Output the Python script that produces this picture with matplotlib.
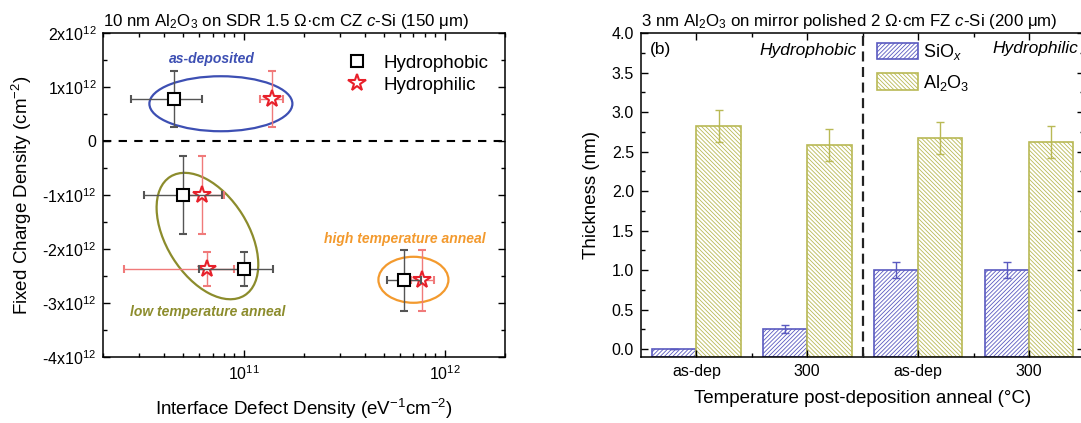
"""Fixed charge vs. interface defect density (a) and layer thickness bars (b)."""

import matplotlib.pyplot as plt
import matplotlib.transforms as mtransforms
from matplotlib.lines import Line2D
from matplotlib.patches import Ellipse
from matplotlib.ticker import FixedLocator, NullFormatter

plt.rcParams["font.family"] = ["Liberation Sans", "DejaVu Sans"]
plt.rcParams["mathtext.fontset"] = "custom"
plt.rcParams["mathtext.rm"] = "Liberation Sans"
plt.rcParams["mathtext.it"] = "Liberation Sans:italic"
plt.rcParams["hatch.linewidth"] = 0.6

# ---- panel (a): Dit vs Qf ----
# order: as-deposited, low-T (upper), low-T (lower), high-T anneal
dit_phob = [4.5e10, 5.0e10, 1.0e11, 6.3e11]
dit_phob_lo = [2.75e10, 3.2e10, 6.0e10, 5.2e11]
dit_phob_hi = [6.2e10, 7.8e10, 1.4e11, 7.6e11]
qf_phob = [0.78e12, -1.0e12, -2.37e12, -2.58e12]
qf_phob_err = [0.52e12, 0.72e12, 0.32e12, 0.56e12]

dit_phil = [1.38e11, 6.2e10, 6.6e10, 7.7e11]
dit_phil_lo = [1.2e11, 4.8e10, 2.55e10, 6.8e11]
dit_phil_hi = [1.57e11, 8.0e10, 9.0e10, 8.85e11]
qf_phil = [0.78e12, -1.0e12, -2.37e12, -2.58e12]
qf_phil_err = [0.52e12, 0.72e12, 0.32e12, 0.56e12]

qf_ticks = [2e12, 1e12, 0, -1e12, -2e12, -3e12, -4e12]
qf_ticklabels = ["2x10$^{12}$", "1x10$^{12}$", "0", "-1x10$^{12}$",
                 "-2x10$^{12}$", "-3x10$^{12}$", "-4x10$^{12}$"]

# ---- panel (b): thickness bars ----
categories = ["as-dep", "300", "as-dep", "300"]
siox = [0.0, 0.25, 1.0, 1.0]
siox_err = [0.0, 0.05, 0.1, 0.1]
al2o3 = [2.82, 2.58, 2.67, 2.62]
al2o3_err = [0.2, 0.2, 0.2, 0.2]

BLUE = "#3d4fb3"
OLIVE = "#8c8c2c"
ORANGE = "#f39a2e"
RED = "#e8202a"
RED_ERR = "#f07a7a"
SIOX_C = "#5a5ac0"
AL2O3_C = "#b9b955"


def style_ticks(ax):
    ax.tick_params(which="both", direction="in", top=True, right=True)
    ax.tick_params(which="major", length=5, width=1, labelsize=11.5, pad=5)
    ax.tick_params(which="minor", length=3, width=1)
    for s in ax.spines.values():
        s.set_linewidth(1.1)


def add_ellipse(ax, fig, x, y, w_in, h_in, angle, color):
    trans = fig.dpi_scale_trans + mtransforms.ScaledTranslation(x, y, ax.transData)
    ax.add_patch(Ellipse((0, 0), w_in, h_in, angle=angle, transform=trans,
                         fill=False, edgecolor=color, linewidth=1.6, zorder=1))


fig = plt.figure(figsize=(10.81, 4.23), dpi=100)
W, H = 1081, 423
ax1 = fig.add_axes([103.3 / W, 1 - 357 / H, (505 - 103.3) / W, 324 / H])
ax2 = fig.add_axes([640.9 / W, 1 - 357 / H, (1084.4 - 640.9) / W, 324 / H])

# ---------------- panel (a) ----------------
ax1.set_xscale("log")
ax1.set_xlim(2e10, 2e12)
ax1.set_ylim(-4e12, 2e12)
ax1.axhline(0, color="black", linewidth=1.5, dashes=(4, 3.5), zorder=1)

xerr_phob = [[d - lo for d, lo in zip(dit_phob, dit_phob_lo)],
             [hi - d for d, hi in zip(dit_phob, dit_phob_hi)]]
xerr_phil = [[d - lo for d, lo in zip(dit_phil, dit_phil_lo)],
             [hi - d for d, hi in zip(dit_phil, dit_phil_hi)]]

ax1.errorbar(dit_phil, qf_phil, xerr=xerr_phil, yerr=qf_phil_err, fmt="*",
             ms=13, mfc="white", mec=RED, mew=1.5, ecolor=RED_ERR,
             elinewidth=1, capsize=3, capthick=1, zorder=3)
ax1.errorbar(dit_phob, qf_phob, xerr=xerr_phob, yerr=qf_phob_err, fmt="s",
             ms=8.5, mfc="white", mec="black", mew=1.5, ecolor="#555555",
             elinewidth=1, capsize=3, capthick=1, zorder=4)

add_ellipse(ax1, fig, 7.7e10, 0.69e12, 1.43, 0.55, 0, BLUE)
add_ellipse(ax1, fig, 6.6e10, -1.76e12, 1.40, 0.82, -58, OLIVE)
add_ellipse(ax1, fig, 7.0e11, -2.57e12, 0.70, 0.46, 0, ORANGE)

ax1.text(6.95e10, 1.52e12, "as-deposited", color=BLUE, fontsize=10,
         fontweight="bold", style="italic", ha="center", va="center")
ax1.text(6.64e10, -3.16e12, "low temperature anneal", color=OLIVE,
         fontsize=10, fontweight="bold", style="italic", ha="center", va="center")
ax1.text(6.37e11, -1.82e12, "high temperature anneal", color=ORANGE,
         fontsize=10, fontweight="bold", style="italic", ha="center", va="center")

ax1.yaxis.set_major_locator(FixedLocator(qf_ticks))
ax1.set_yticklabels(qf_ticklabels)
ax1.yaxis.set_minor_locator(FixedLocator([t + 0.5e12 for t in qf_ticks[1:]]))
ax1.xaxis.set_major_locator(FixedLocator([1e11, 1e12]))
ax1.set_xticklabels(["10$^{11}$", "10$^{12}$"])
ax1.xaxis.set_minor_locator(FixedLocator(
    [m * 10 ** e for e in (10, 11) for m in range(2, 10)] + [2e12]))
ax1.xaxis.set_minor_formatter(NullFormatter())
style_ticks(ax1)

ax1.set_xlabel("Interface Defect Density (eV$^{-1}$cm$^{-2}$)", fontsize=13.5,
               labelpad=10)
ax1.set_ylabel("Fixed Charge Density (cm$^{-2}$)", fontsize=13.5, labelpad=6)
ax1.set_title("10 nm Al$_2$O$_3$ on SDR 1.5 \u03a9\u00b7cm CZ $c$-Si (150 \u03bcm)",
              fontsize=12.2, loc="left", pad=5)

leg_handles = [
    Line2D([], [], marker="s", ls="none", ms=8.5, mfc="white", mec="black", mew=1.5),
    Line2D([], [], marker="*", ls="none", ms=13, mfc="white", mec=RED, mew=1.5),
]
ax1.legend(leg_handles, ["Hydrophobic", "Hydrophilic"], loc="upper right",
           bbox_to_anchor=(1.0, 0.985), frameon=False, fontsize=13.5,
           handlelength=1.2, handletextpad=0.8, labelspacing=0.25)

# ---------------- panel (b) ----------------
ymin = -0.1
x = list(range(len(categories)))
b1 = ax2.bar([i - 0.2 for i in x], [v - ymin for v in siox], width=0.4,
             bottom=ymin, yerr=siox_err, color="white", edgecolor=SIOX_C,
             hatch="////////", linewidth=1.2,
             error_kw=dict(ecolor=SIOX_C, elinewidth=1, capsize=3, capthick=1))
b2 = ax2.bar([i + 0.2 for i in x], [v - ymin for v in al2o3], width=0.4,
             bottom=ymin, yerr=al2o3_err, color="white", edgecolor=AL2O3_C,
             hatch="\\\\\\\\\\\\\\\\", linewidth=1.2,
             error_kw=dict(ecolor=AL2O3_C, elinewidth=1, capsize=3, capthick=1))
ax2.axvline(1.5, color="#222222", linewidth=1.6, dashes=(4.5, 2.5), zorder=3)

ax2.set_xlim(-0.5, 3.5)
ax2.set_ylim(ymin, 4.0)
ax2.set_xticks(x)
ax2.set_xticklabels(categories)
ax2.xaxis.set_minor_locator(FixedLocator([0.5, 1.5, 2.5]))
ax2.set_yticks([0.5 * i for i in range(9)])
ax2.set_yticklabels([f"{0.5 * i:.1f}" for i in range(9)])
ax2.yaxis.set_minor_locator(FixedLocator([0.25 + 0.5 * i for i in range(8)]))
style_ticks(ax2)

ax2.text(0.02, 0.948, "(b)", transform=ax2.transAxes, fontsize=12.5,
         ha="left", va="center")
ax2.text(1.45, 3.78, "Hydrophobic", fontsize=12.5, style="italic",
         ha="right", va="center")
ax2.text(2.67, 3.8, "Hydrophilic", fontsize=12.5, style="italic",
         ha="left", va="center")

ax2.legend([b1, b2], ["SiO$_x$", "Al$_2$O$_3$"], loc="upper left",
           bbox_to_anchor=(0.515, 0.995), frameon=False, fontsize=13,
           handlelength=2.3, handleheight=1.0, handletextpad=0.3,
           labelspacing=0.6, borderaxespad=0)

ax2.set_xlabel("Temperature post-deposition anneal (\u00b0C)", fontsize=13.5,
               labelpad=8)
ax2.set_ylabel("Thickness (nm)", fontsize=13.5, labelpad=8)
ax2.set_title("3 nm Al$_2$O$_3$ on mirror polished 2 \u03a9\u00b7cm FZ $c$-Si (200 \u03bcm)",
              fontsize=12.2, loc="left", pad=5)

fig.savefig("out.png", dpi=100)
